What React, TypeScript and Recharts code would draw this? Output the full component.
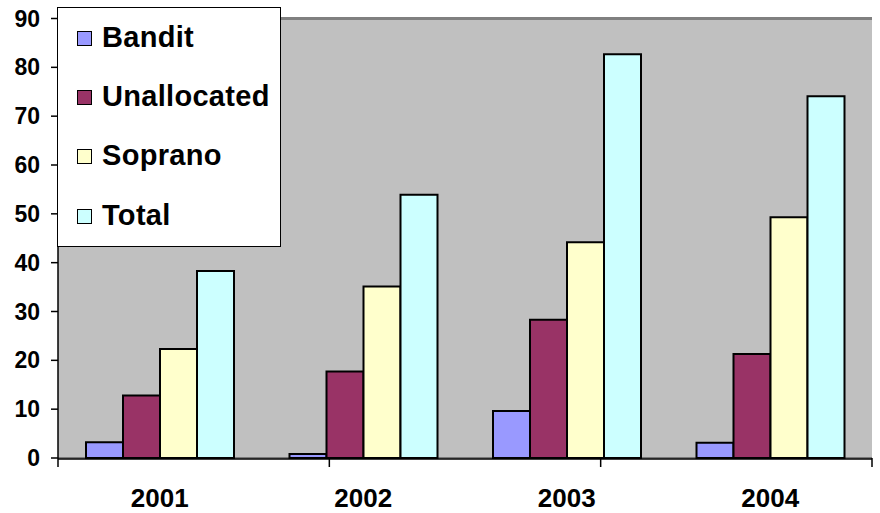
import React from "react";
import {
  BarChart,
  Bar,
  XAxis,
  YAxis,
  CartesianGrid,
  Legend,
  ReferenceLine,
} from "recharts";

const years = ["2001", "2002", "2003", "2004"];
const bandit = [3.2, 0.8, 9.6, 3.1];
const unallocated = [12.8, 17.7, 28.3, 21.3];
const soprano = [22.3, 35.1, 44.2, 49.3];
const total = [38.3, 53.9, 82.7, 74.1];
const yTicks = [0, 10, 20, 30, 40, 50, 60, 70, 80, 90];
const boundaryTicks = [0, 1, 2, 3, 4];

const seriesNames = ["Bandit", "Unallocated", "Soprano", "Total"];
const seriesKeys = ["bandit", "unallocated", "soprano", "total"];
const seriesColors = ["#9999FF", "#993366", "#FFFFCC", "#CCFFFF"];

const data = years.map((y, i) => ({
  year: y,
  bandit: bandit[i],
  unallocated: unallocated[i],
  soprano: soprano[i],
  total: total[i],
}));

const FONT = '"Liberation Sans", Arial, sans-serif';

const LegendBox = () => (
  <div
    style={{
      width: 224,
      height: 240,
      boxSizing: "border-box",
      border: "1.5px solid #000",
      background: "#fff",
      fontFamily: FONT,
      fontWeight: "bold",
      fontSize: 29,
      paddingTop: 0,
      paddingLeft: 19,
    }}
  >
    {seriesNames.map((n, i) => (
      <div
        key={n}
        style={{ display: "flex", alignItems: "center", height: 59.3 }}
      >
        <div
          style={{
            width: 13,
            height: 13,
            border: "1.5px solid #000",
            background: seriesColors[i],
            marginRight: 10,
            marginTop: 1,
          }}
        />
        <span style={{ marginTop: -1, letterSpacing: 0.3 }}>{n}</span>
      </div>
    ))}
  </div>
);

const EmptyTick = () => <g />;

export default function App() {
  return (
    <div style={{ position: "absolute", left: 0, top: 0, background: "#fff" }}>
      <BarChart
        width={880}
        height={513}
        data={data}
        margin={{ top: 18.5, right: 8, bottom: 14, left: 8 }}
        barCategoryGap={28}
        barGap={0}
      >
        <CartesianGrid
          vertical={false}
          fill="#C0C0C0"
          fillOpacity={1}
          stroke="#333"
          strokeWidth={1}
        />
        <XAxis
          xAxisId="b"
          type="number"
          domain={[0, 4]}
          ticks={boundaryTicks}
          interval={0}
          allowDataOverflow
          tick={EmptyTick}
          tickSize={9}
          tickLine={{ stroke: "#000", strokeWidth: 1.5 }}
          axisLine={false}
          height={1}
        />
        <XAxis
          xAxisId="cat"
          dataKey="year"
          tickLine={false}
          tickSize={0}
          tickMargin={30}
          axisLine={{ stroke: "#000", strokeWidth: 1.5 }}
          height={40}
          tick={{
            fill: "#000",
            fontSize: 26,
            fontWeight: "bold",
            fontFamily: FONT,
          }}
        />
        <YAxis
          yAxisId="l"
          domain={[0, 90]}
          ticks={yTicks}
          interval={0}
          width={50}
          tickSize={7}
          tickMargin={11}
          tickLine={{ stroke: "#000", strokeWidth: 1.5 }}
          axisLine={{ stroke: "#000", strokeWidth: 1.5 }}
          tick={{
            fill: "#000",
            fontSize: 23,
            fontWeight: "bold",
            fontFamily: FONT,
          }}
        />
        <YAxis
          yAxisId="r"
          orientation="right"
          domain={[0, 90]}
          width={0}
          tick={false}
          tickLine={false}
          axisLine={{ stroke: "#808080", strokeWidth: 3 }}
        />
        <ReferenceLine
          yAxisId="l"
          xAxisId="cat"
          y={90}
          stroke="#808080"
          strokeWidth={3}
        />
        {seriesKeys.map((k, i) => (
          <Bar
            key={k}
            xAxisId="cat"
            yAxisId="l"
            dataKey={k}
            name={seriesNames[i]}
            fill={seriesColors[i]}
            stroke="#000"
            strokeWidth={2}
            isAnimationActive={false}
          />
        ))}
        <Legend
          layout="horizontal"
          align="center"
          verticalAlign="middle"
          content={() => <LegendBox />}
          wrapperStyle={{ left: 57, top: 7, width: 225, height: 241 }}
        />
      </BarChart>
    </div>
  );
}
